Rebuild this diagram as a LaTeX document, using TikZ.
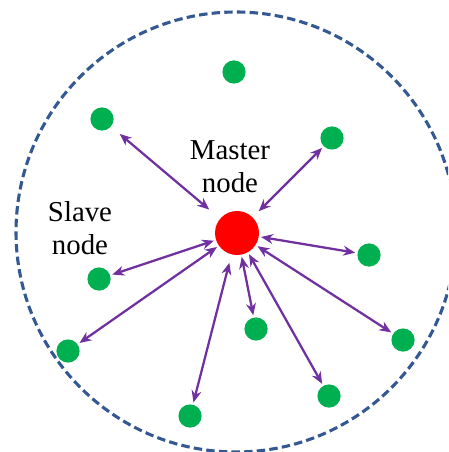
\documentclass[tikz,border=0pt]{standalone}
\usepackage{xcolor}
\usepackage{fontspec}
\setmainfont{Liberation Serif}
\usepackage{tikz}
\usetikzlibrary{arrows.meta}

\definecolor{linkpurple}{RGB}{112,48,160}
\definecolor{rimblue}{RGB}{52,88,145}
\definecolor{slavegreen}{RGB}{0,176,80}

\begin{document}
\begin{tikzpicture}[x=0.025cm, y=-0.025cm]
    % Define styles
    \tikzstyle{master} = [circle, fill=red, minimum size=1.1cm, inner sep=0pt]
    \tikzstyle{slave} = [circle, fill=slavegreen, minimum size=0.58cm, inner sep=0pt]
    \tikzstyle{link} = [{Stealth[length=8.5pt,width=7pt]}-{Stealth[length=8.5pt,width=7pt]}, draw=linkpurple, line width=1.6pt, shorten <=1.5pt, shorten >=1.5pt]
    \tikzstyle{caption} = [align=center, inner sep=0pt, font=\fontsize{20.5}{23.5}\selectfont]
    \tikzstyle{rim} = [draw=rimblue, line width=2.2pt, dash pattern=on 6pt off 3pt]

    \useasboundingbox (0,0) rectangle (448,452);
    \clip (0,0) rectangle (448,452);

    % Range of the network
    \draw[rim] (236,232) circle [radius=220];

    % Master and slaves
    \node[master] (master) at (237,233) {};
    \node[slave] (slave1) at (234,72) {};
    \node[slave] (slave2) at (102,119) {};
    \node[slave] (slave3) at (332,138) {};
    \node[slave] (slave4) at (369,255) {};
    \node[slave] (slave5) at (99,279) {};
    \node[slave] (slave6) at (256,329) {};
    \node[slave] (slave7) at (403,340) {};
    \node[slave] (slave8) at (68,351) {};
    \node[slave] (slave9) at (329,396) {};
    \node[slave] (slave10) at (190,416) {};

    % Labels
    \node[caption] (mastertext) at (230,167) {Master\\node};
    \node[caption] (slavetext) at (80,228) {Slave\\node};

    % Links
    \draw[link, shorten <=10pt, shorten >=8pt] (master) -- (slave2);
    \draw[link, shorten <=6pt] (master) -- (slave3);
    \draw[link] (master) -- (slave4);
    \draw[link] (master) -- (slave5);
    \draw[link] (master) -- (slave6);
    \draw[link] (master) -- (slave7);
    \draw[link] (master) -- (slave8);
    \draw[link] (master) -- (slave9);
    \draw[link, shorten <=6pt] (master) -- (slave10);

\end{tikzpicture}
\end{document}
